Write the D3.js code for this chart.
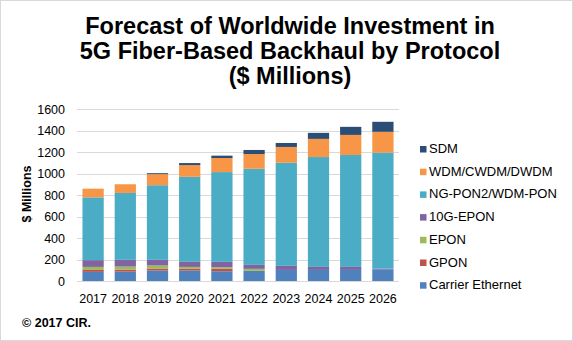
<!DOCTYPE html>
<html>
<head>
<meta charset="utf-8">
<script src="https://cdn.jsdelivr.net/npm/d3@7"></script>
<style>
  body { margin: 0; background: #fff; }
  svg { font-family: "Liberation Sans", Arial, sans-serif; }
</style>
</head>
<body>
<div id="chart"></div>
<script>
// Data
var years = ["2017", "2018", "2019", "2020", "2021", "2022", "2023", "2024", "2025", "2026"];
var carrierEthernet = [85, 87, 97, 97, 91, 94, 103, 103, 103, 109];
var gpon = [18, 19, 19, 16, 22, 0, 0, 0, 0, 0];
var epon = [28, 28, 28, 18, 15, 19, 0, 0, 0, 0];
var tenGEpon = [63, 63, 53, 47, 50, 37, 38, 28, 28, 7];
var ngPon2 = [584, 622, 694, 791, 835, 894, 959, 1022, 1041, 1078];
var wdm = [81, 81, 103, 109, 131, 137, 147, 169, 187, 194];
var sdm = [0, 0, 9, 19, 22, 38, 37, 56, 75, 93];
var yTicks = [0, 200, 400, 600, 800, 1000, 1200, 1400, 1600];

var seriesNames = ["Carrier Ethernet", "GPON", "EPON", "10G-EPON", "NG-PON2/WDM-PON", "WDM/CWDM/DWDM", "SDM"];
var seriesValues = [carrierEthernet, gpon, epon, tenGEpon, ngPon2, wdm, sdm];
var colors = ["#4F81BD", "#C0504D", "#9BBB59", "#8064A2", "#4BACC6", "#F79646", "#2C4D75"];

var width = 573, height = 341;

var svg = d3.select("#chart").append("svg")
  .attr("width", width)
  .attr("height", height);

// outer border
svg.append("rect")
  .attr("x", 0.5).attr("y", 0.5)
  .attr("width", width - 1).attr("height", height - 1)
  .attr("fill", "#fff")
  .attr("stroke", "#d9d9d9");

// title
var titleLines = ["Forecast of Worldwide Investment in", "5G Fiber-Based Backhaul by Protocol", "($ Millions)"];
svg.selectAll(".title")
  .data(titleLines)
  .enter().append("text")
  .attr("class", "title")
  .attr("x", 290)
  .attr("y", function(d, i) { return 34 + i * 25; })
  .attr("text-anchor", "middle")
  .attr("font-size", 23.5)
  .attr("font-weight", "bold")
  .attr("fill", "#000")
  .text(function(d) { return d; });

// build rows for stacking
var rows = years.map(function(y, i) {
  var r = { year: y };
  seriesNames.forEach(function(name, j) { r[name] = seriesValues[j][i]; });
  return r;
});
var stacked = d3.stack().keys(seriesNames)(rows);

var x = d3.scaleBand()
  .domain(years)
  .range([77, 399])
  .paddingInner(0.34)
  .paddingOuter(0.17);

var y = d3.scaleLinear()
  .domain([0, 1600])
  .range([281, 109]);

// gridlines
svg.append("g")
  .selectAll("line")
  .data(yTicks)
  .enter().append("line")
  .attr("x1", 77).attr("x2", 399)
  .attr("y1", function(d) { return Math.round(y(d)) + 0.5; })
  .attr("y2", function(d) { return Math.round(y(d)) + 0.5; })
  .attr("stroke", "#d9d9d9");

// y tick labels
svg.append("g")
  .selectAll("text")
  .data(yTicks)
  .enter().append("text")
  .attr("x", 65)
  .attr("y", function(d) { return y(d) + 4.5; })
  .attr("text-anchor", "end")
  .attr("font-size", 12.5)
  .attr("fill", "#000")
  .text(function(d) { return d; });

// y axis title
svg.append("text")
  .attr("transform", "translate(31,194) rotate(-90)")
  .attr("text-anchor", "middle")
  .attr("font-size", 12.5)
  .attr("font-weight", "bold")
  .text("$ Millions");

// bars
svg.append("g")
  .selectAll("g")
  .data(stacked)
  .enter().append("g")
  .attr("fill", function(d, i) { return colors[i]; })
  .selectAll("rect")
  .data(function(d) { return d; })
  .enter().append("rect")
  .attr("x", function(d) { return x(d.data.year); })
  .attr("y", function(d) { return y(d[1]); })
  .attr("width", x.bandwidth())
  .attr("height", function(d) { return y(d[0]) - y(d[1]); });

// x axis line
svg.append("line")
  .attr("x1", 77).attr("x2", 399)
  .attr("y1", Math.round(y(0)) + 0.5).attr("y2", Math.round(y(0)) + 0.5)
  .attr("stroke", "#d9d9d9");

// x tick labels
svg.append("g")
  .selectAll("text")
  .data(years)
  .enter().append("text")
  .attr("x", function(d) { return x(d) + x.bandwidth() / 2; })
  .attr("y", 303)
  .attr("text-anchor", "middle")
  .attr("font-size", 12.5)
  .attr("fill", "#000")
  .text(function(d) { return d; });

// legend (top to bottom: SDM first)
var legendItems = seriesNames.map(function(n, i) { return { name: n, color: colors[i] }; }).reverse();
var legend = svg.append("g")
  .selectAll("g")
  .data(legendItems)
  .enter().append("g")
  .attr("transform", function(d, i) { return "translate(420," + (153 + i * 22.7) + ")"; });

legend.append("rect")
  .attr("x", 0).attr("y", -7)
  .attr("width", 6.5).attr("height", 6.5)
  .attr("fill", function(d) { return d.color; });

legend.append("text")
  .attr("x", 9)
  .attr("y", 0)
  .attr("font-size", 13)
  .attr("fill", "#000")
  .text(function(d) { return d.name; });

// footer
svg.append("text")
  .attr("x", 22)
  .attr("y", 327)
  .attr("font-size", 12.5)
  .attr("font-weight", "bold")
  .text("\u00A9 2017 CIR.");
</script>
</body>
</html>
